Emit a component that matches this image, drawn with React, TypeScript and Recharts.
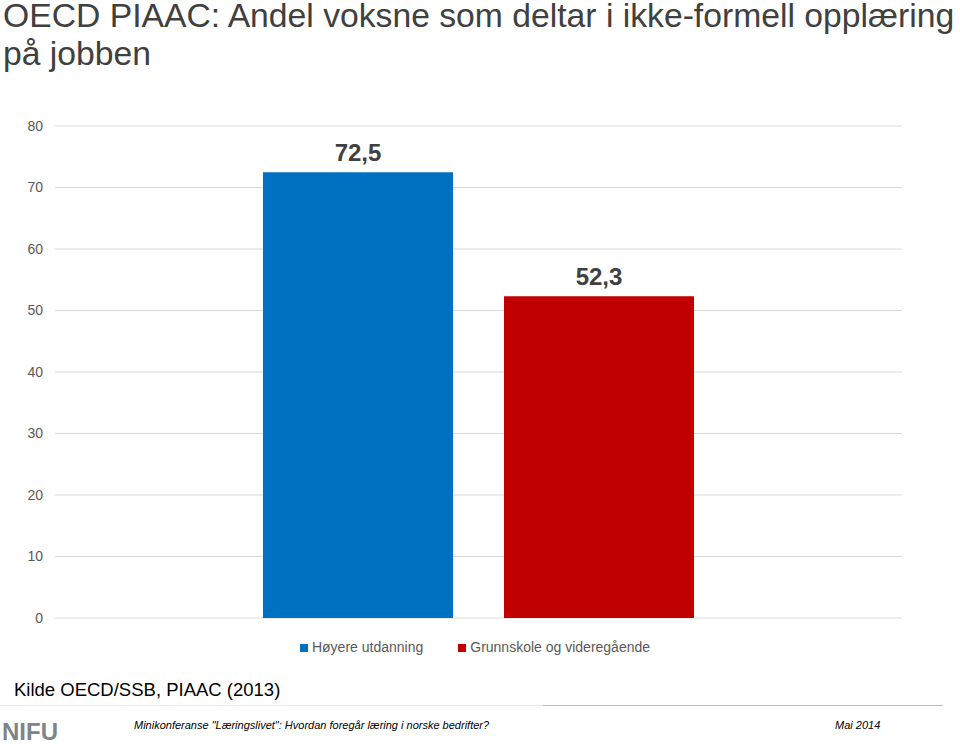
import { BarChart, Bar, XAxis, YAxis, CartesianGrid, Legend, LabelList } from "recharts";

const categories = ["Andel"];
const hoyereValues = [72.5];
const grunnskoleValues = [52.3];
const yTicks = [0, 10, 20, 30, 40, 50, 60, 70, 80];
const seriesOrder = ["Høyere utdanning", "Grunnskole og videregående"];
const titleLines = ["OECD PIAAC: Andel voksne som deltar i ikke-formell opplæring", "på jobben"];

const data = categories.map((c, i) => ({
    name: c,
    hoyere: hoyereValues[i],
    grunnskole: grunnskoleValues[i],
}));

const font = "'Liberation Sans', Arial, sans-serif";
const fmt = (v: number) => v.toFixed(1).replace(".", ",");

export default function App() {
    return (
        <div style={{ position: "absolute", left: 0, top: 0, width: 960, height: 744, background: "#fff", fontFamily: font, overflow: "hidden" }}>
            {titleLines.map((t, i) => (
                <div key={i} style={{ position: "absolute", left: 3, top: i * 38, fontSize: 33.7, lineHeight: "30px", color: "#404040", whiteSpace: "nowrap" }}>
                    {t}
                </div>
            ))}
            <div style={{ position: "absolute", left: 0, top: 0 }}>
                <BarChart
                    width={960}
                    height={744}
                    data={data}
                    margin={{ top: 126, right: 58, bottom: 126, left: 0 }}
                    barGap={51}
                    barCategoryGap={208}
                >
                    <CartesianGrid vertical={false} stroke="#d9d9d9" />
                    <XAxis dataKey="name" hide />
                    <YAxis
                        domain={[0, 80]}
                        ticks={yTicks}
                        width={55}
                        axisLine={false}
                        tickLine={false}
                        tickMargin={6}
                        tick={{ fill: "#595959", fontSize: 14, fontFamily: font }}
                    />
                    <Legend
                        verticalAlign="top"
                        align="center"
                        iconType="square"
                        iconSize={8}
                        itemSorter={(item: any) => seriesOrder.indexOf(item.value)}
                        wrapperStyle={{ top: 639, left: 0, width: 960, height: 0, fontSize: 14, fontFamily: font }}
                        formatter={(v: string) => (
                            <span style={{ color: "#595959", paddingRight: v === seriesOrder[0] ? 25 : 0 }}>{v}</span>
                        )}
                    />
                    <Bar dataKey="hoyere" name="Høyere utdanning" fill="#0070c0" isAnimationActive={false}>
                        <LabelList dataKey="hoyere" position="top" offset={11} formatter={(v: number) => fmt(v)} style={{ fill: "#404040", fontSize: 24, fontWeight: "bold", fontFamily: font }} />
                    </Bar>
                    <Bar dataKey="grunnskole" name="Grunnskole og videregående" fill="#c00000" isAnimationActive={false}>
                        <LabelList dataKey="grunnskole" position="top" offset={11} formatter={(v: number) => fmt(v)} style={{ fill: "#404040", fontSize: 24, fontWeight: "bold", fontFamily: font }} />
                    </Bar>
                </BarChart>
            </div>
            <div style={{ position: "absolute", left: 14, top: 681, fontSize: 18.5, lineHeight: 1, color: "#000" }}>
                Kilde OECD/SSB, PIAAC (2013)
            </div>
            <div style={{ position: "absolute", left: 0, top: 705, width: 543, height: 1, background: "#ececec" }} />
            <div style={{ position: "absolute", left: 543, top: 705, width: 400, height: 1, background: "#bfbfbf" }} />
            <div style={{ position: "absolute", left: 2, top: 720, fontSize: 24, lineHeight: 1, fontWeight: "bold", color: "#7f8489" }}>
                NIFU
            </div>
            <div style={{ position: "absolute", left: 134, top: 720, fontSize: 11, lineHeight: 1, fontStyle: "italic", color: "#000" }}>
                Minikonferanse "Læringslivet": Hvordan foregår læring i norske bedrifter?
            </div>
            <div style={{ position: "absolute", left: 835, top: 720, fontSize: 11, lineHeight: 1, fontStyle: "italic", color: "#000" }}>
                Mai 2014
            </div>
        </div>
    );
}
